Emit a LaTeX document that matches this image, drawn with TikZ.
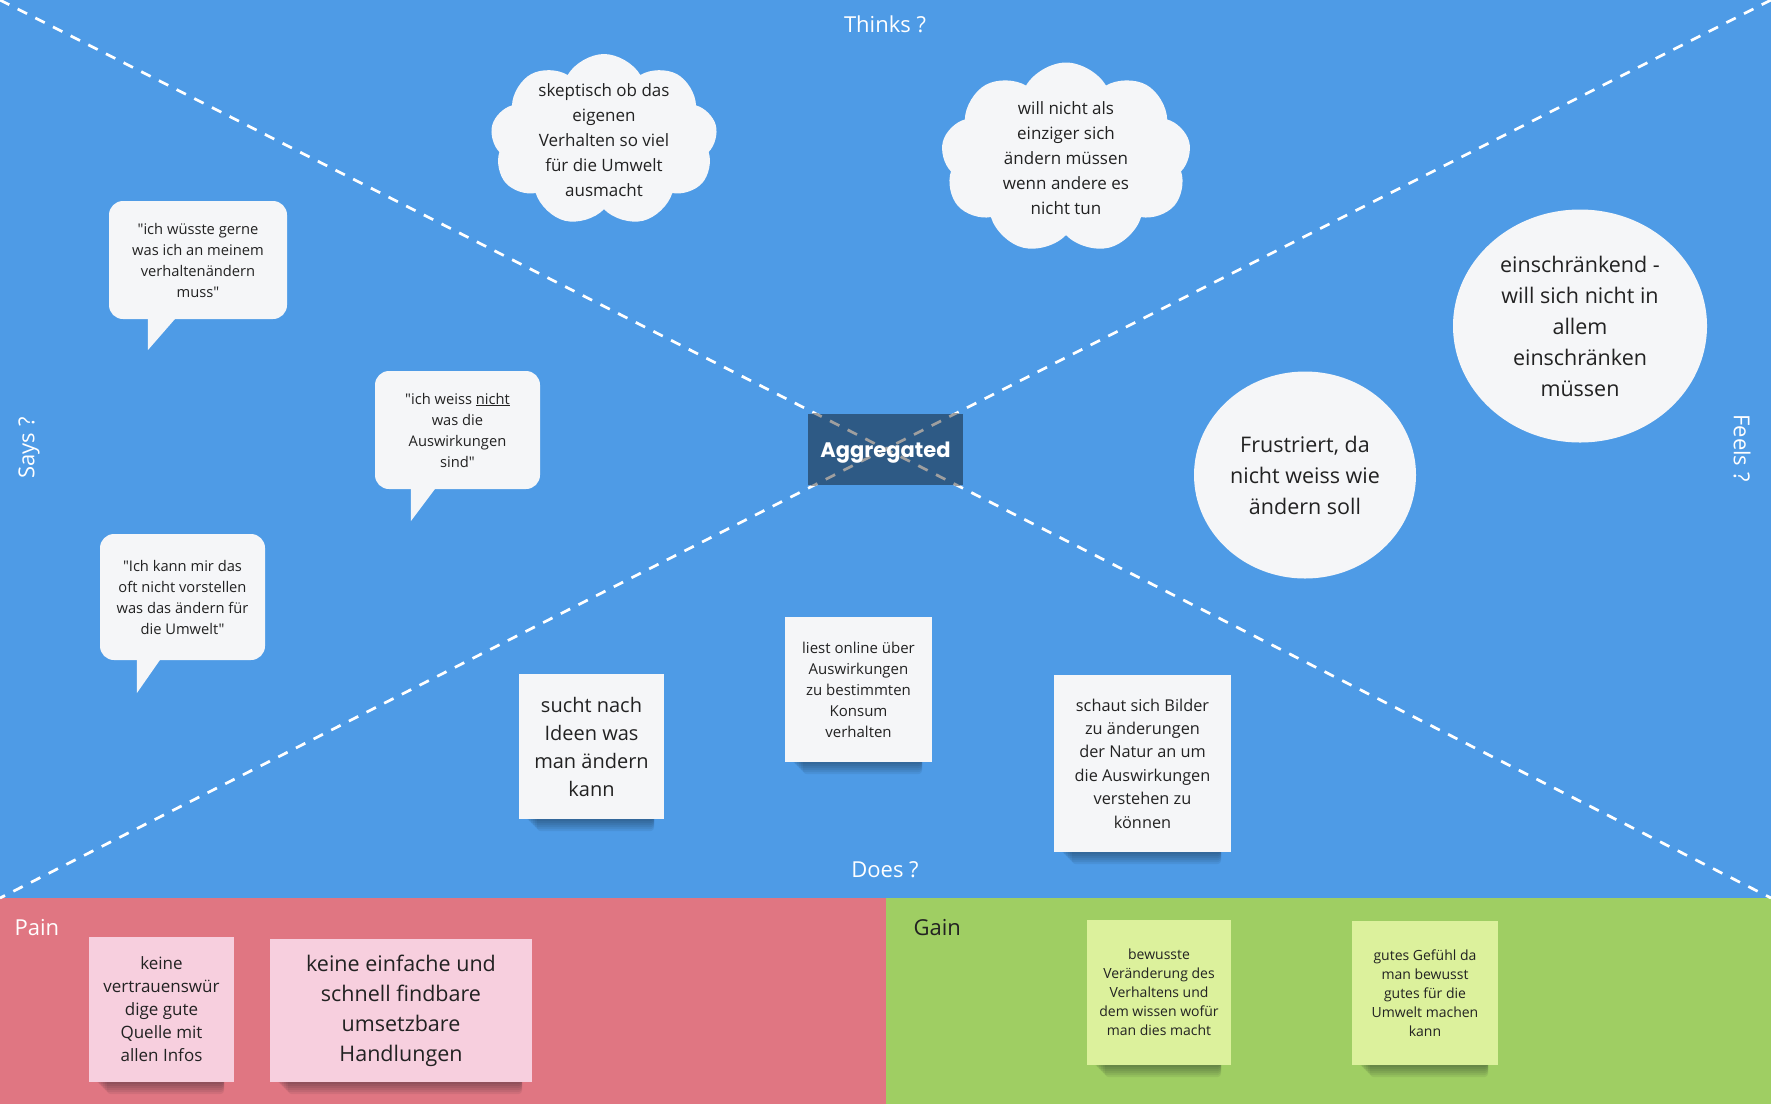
\documentclass[tikz,border=0pt]{standalone}
\usepackage{fontspec}
\setmainfont{Open Sans}[Ligatures=TeXOff]
\newfontfamily\aggfont{Poppins}
\usetikzlibrary{shapes.symbols,shapes.geometric}
\definecolor{boardblue}{RGB}{78,155,230}
\definecolor{aggblue}{RGB}{46,90,133}
\definecolor{painred}{RGB}{224,118,130}
\definecolor{gaingreen}{RGB}{159,206,99}
\definecolor{notewhite}{RGB}{245,246,248}
\definecolor{notepink}{RGB}{247,207,222}
\definecolor{notegreen}{RGB}{220,241,156}
\definecolor{ink}{RGB}{34,34,34}
\pgfdeclarelayer{board}
\pgfdeclarelayer{shade}
\pgfsetlayers{board,shade,main}
\tikzstyle{divider}=[white, line width=2.7pt, dash pattern=on 10.5pt off 9.3pt]
\tikzstyle{quadlabel}=[text=white, font=\fontsize{22}{26}\selectfont]
\tikzstyle{bubble}=[rectangle, rounded corners=14pt, fill=notewhite, text=ink, align=center, inner sep=0pt, font=\fontsize{14.7}{21}\selectfont]
\tikzstyle{thought}=[cloud, cloud puffs=9, cloud puff arc=120, cloud ignores aspect, fill=notewhite, inner sep=0pt]
\tikzstyle{thoughttext}=[text=ink, align=center, font=\fontsize{17}{25}\selectfont]
\tikzstyle{feeling}=[ellipse, fill=notewhite, text=ink, align=center, inner sep=0pt, font=\fontsize{21.5}{31}\selectfont]
\tikzstyle{note}=[rectangle, fill=notewhite, text=ink, align=center, inner sep=0pt]
\newcommand{\noteshadow}[1]{%
  \begin{pgfonlayer}{shade}
    \foreach \d in {2,4,...,12}
      \fill[black!80!aggblue, opacity=0.07, rounded corners=4pt] ([xshift=6pt+\d pt,yshift=4pt]#1.south west) rectangle ([xshift=-10pt,yshift=-\d pt]#1.south east);
  \end{pgfonlayer}}

\begin{document}
\begin{tikzpicture}[x=1pt, y=-1pt]
\useasboundingbox (0,0) rectangle (1771,1104);
\begin{pgfonlayer}{board}
\fill[boardblue] (0,0) rectangle (1771,898);
\fill[painred] (0,898) rectangle (886,1104);
\fill[gaingreen] (886,898) rectangle (1771,1104);
\end{pgfonlayer}
\coordinate (tl) at (0,0);
\coordinate (tr) at (1771,0);
\coordinate (bl) at (0,898);
\coordinate (br) at (1771,898);
\draw[divider] (tl) -- (br) (tr) -- (bl);
\node[rectangle, fill=aggblue, minimum width=155pt, minimum height=71pt, inner sep=0pt] (agg) at (885.5,449.5) {};
\begin{scope}
\clip (agg.south west) rectangle (agg.north east);
\draw[divider, draw=gray!75] (tl) -- (br) (tr) -- (bl);
\end{scope}
\node[text=white, font=\aggfont\bfseries\fontsize{21}{24}\selectfont] (aggt) at ([yshift=-3pt]agg.center) {Aggregated};

\node[quadlabel] (thinks) at (885,24) {Thinks ?};
\node[quadlabel] (does) at (885,870) {Does ?};
\node[quadlabel, rotate=90] (says) at (29,448) {Says ?};
\node[quadlabel, rotate=-90] (feels) at (1742,448) {Feels ?};
\node[quadlabel, anchor=west] (pain) at (11,928) {Pain};
\node[quadlabel, anchor=west, text=ink] (gain) at (910,928) {Gain};

\node[thought, minimum width=227pt, minimum height=172pt] (c1) at (604,140) {};
\node[thoughttext] (c1t) at (c1) {skeptisch ob das\\eigenen\\Verhalten so viel\\für die Umwelt\\ausmacht};
\node[thought, minimum width=250pt, minimum height=191pt] (c2) at (1066,158) {};
\node[thoughttext] (c2t) at (c2) {will nicht als\\einziger sich\\ändern müssen\\wenn andere es\\nicht tun};

\node[bubble, minimum width=178pt, minimum height=118pt] (b1) at (198,260) {"ich wüsste gerne\\was ich an meinem\\verhaltenändern\\muss"};
\fill[notewhite] ([xshift=39pt]b1.south west) -- ++(0,31) -- ([xshift=66pt]b1.south west) -- cycle;
\node[bubble, minimum width=165pt, minimum height=118pt] (b2) at (457.5,430) {"ich weiss \underline{nicht}\\was die\\Auswirkungen\\sind"};
\fill[notewhite] ([xshift=36pt]b2.south west) -- ++(0,32) -- ([xshift=60pt]b2.south west) -- cycle;
\node[bubble, minimum width=165pt, minimum height=126pt] (b3) at (182.5,597) {"Ich kann mir das\\oft nicht vorstellen\\was das ändern für\\die Umwelt"};
\fill[notewhite] ([xshift=37pt]b3.south west) -- ++(0,33) -- ([xshift=60pt]b3.south west) -- cycle;

\node[feeling, minimum width=254pt, minimum height=233pt] (e1) at (1580,326) {einschränkend -\\will sich nicht in\\allem\\einschränken\\müssen};
\node[feeling, minimum width=222pt, minimum height=207pt] (e2) at (1305,475) {Frustriert, da\\nicht weiss wie\\ändern soll};

\node[note, minimum width=145pt, minimum height=145pt, font=\fontsize{20}{28}\selectfont] (d1) at (591.5,746.5) {sucht nach\\Ideen was\\man ändern\\kann};
\node[note, minimum width=147pt, minimum height=145pt, font=\fontsize{15}{21}\selectfont] (d2) at (858.5,689.5) {liest online über\\Auswirkungen\\zu bestimmten\\Konsum\\verhalten};
\node[note, minimum width=177pt, minimum height=177pt, font=\fontsize{16.3}{23.4}\selectfont] (d3) at (1142.5,763.5) {schaut sich Bilder\\zu änderungen\\der Natur an um\\die Auswirkungen\\verstehen zu\\können};

\node[note, fill=notepink, minimum width=145pt, minimum height=145pt, font=\fontsize{17}{23}\selectfont] (p1) at (161.5,1009.5) {keine\\vertrauenswür\\dige gute\\Quelle mit\\allen Infos};
\node[note, fill=notepink, minimum width=262pt, minimum height=143pt, font=\fontsize{21.5}{30}\selectfont] (p2) at (401,1010.5) {keine einfache und\\schnell findbare\\umsetzbare\\Handlungen};

\node[note, fill=notegreen, minimum width=144pt, minimum height=145pt, font=\fontsize{14}{19}\selectfont] (g1) at (1159,992.5) {bewusste\\Veränderung des\\Verhaltens und\\dem wissen wofür\\man dies macht};
\node[note, fill=notegreen, minimum width=146pt, minimum height=144pt, font=\fontsize{14}{19}\selectfont] (g2) at (1425,993) {gutes Gefühl da\\man bewusst\\gutes für die\\Umwelt machen\\kann};

\foreach \n in {d1,d2,d3,p1,p2,g1,g2} {\noteshadow{\n}}
\end{tikzpicture}
\end{document}
